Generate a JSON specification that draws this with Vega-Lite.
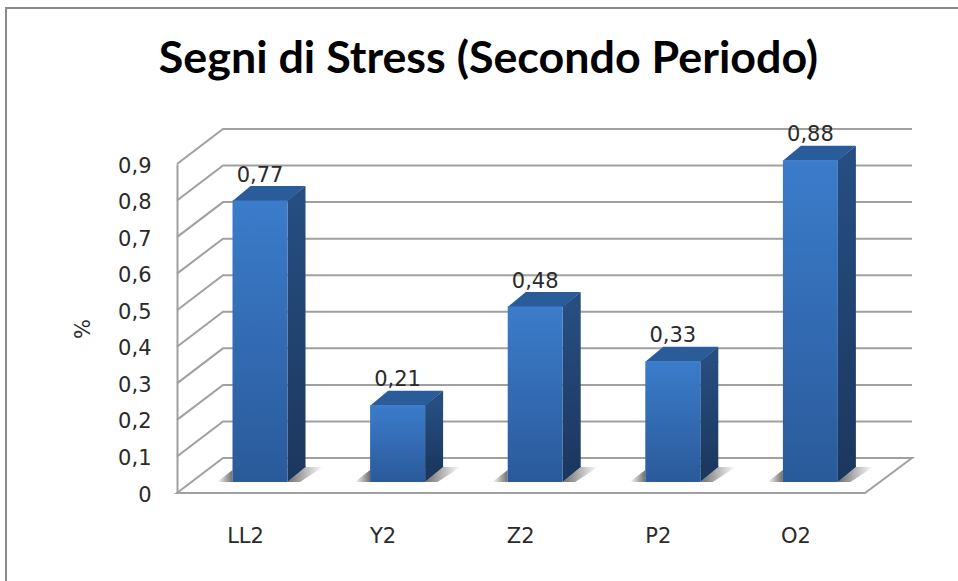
{
"$schema":"https://vega.github.io/schema/vega-lite/v6.json",
"autosize":"none",
"padding":{"left":177,"top":164,"right":46,"bottom":88},
"width":735,"height":329,
"background":"white",
"config":{"view":{"stroke":null}},
"title":{"text":"Segni di Stress (Secondo Periodo)","font":"Lato","fontWeight":"bold","fontSize":44.8,"color":"#000000","anchor":"middle","dx":-56,"offset":-79},
"data":{"values":[
{"cat":"LL2","value":0.77,"label":"0,77"},
{"cat":"Y2","value":0.21,"label":"0,21"},
{"cat":"Z2","value":0.48,"label":"0,48"},
{"cat":"P2","value":0.33,"label":"0,33"},
{"cat":"O2","value":0.88,"label":"0,88"}]},
"encoding":{
"x":{"field":"cat","type":"nominal","sort":null,"scale":{"type":"point","domain":["LL2","Y2","Z2","P2","O2"],"range":[68,618.4],"padding":0},
"axis":{"title":null,"domain":false,"ticks":false,"labelAngle":0,"labelPadding":32,"labelFont":"DejaVu Sans","labelFontSize":21,"labelColor":"#2a2a2a"}},
"y":{"field":"value","type":"quantitative","scale":{"domain":[0,0.9],"nice":false},
"axis":{"title":"%","titleFont":"DejaVu Sans","titleFontSize":21,"titleFontWeight":"normal","titleColor":"#2a2a2a","titlePadding":24,"grid":false,"ticks":false,"domain":true,"domainColor":"#a0a0a0","domainWidth":2,"values":[0,0.1,0.2,0.3,0.4,0.5,0.6,0.7,0.8,0.9],"labelExpr":"datum.value===0?'0':replace(format(datum.value,'.1f'),'.',',')","labelPadding":26,"labelOffset":2,"labelFont":"DejaVu Sans","labelFontSize":21,"labelColor":"#2a2a2a"}}
},
"layer":[
{"data":{"values":[{"tick":0}]},
 "mark":{"type":"point","shape":"M-239 88L-239 -485L713 -485","size":4,"filled":false,"stroke":"#8a8a8a","strokeWidth":2,"opacity":1},
 "encoding":{"x":{"datum":"LL2","type":"nominal"},"y":{"field":"tick","type":"quantitative"}}},
{"data":{"values":[{"tick":0.1},{"tick":0.2},{"tick":0.3},{"tick":0.4},{"tick":0.5},{"tick":0.6},{"tick":0.7},{"tick":0.8},{"tick":0.9}]},
 "mark":{"type":"point","shape":"M-68 0L-22 -35L667 -35","size":4,"filled":false,"stroke":"#a0a0a0","strokeWidth":2,"opacity":1},
 "encoding":{"x":{"datum":"LL2","type":"nominal"},"y":{"field":"tick","type":"quantitative"}}},
{"data":{"values":[{"tick":0}]},
 "mark":{"type":"point","shape":"M-68 0L-22 -35L667 -35L620 0Z","size":4,"filled":false,"stroke":"#a0a0a0","strokeWidth":2,"opacity":1},
 "encoding":{"x":{"datum":"LL2","type":"nominal"},"y":{"field":"tick","type":"quantitative"}}},
{"mark":{"type":"point","shape":"M27.5 0L45.5 -15L63 -15L40 0Z","size":4,"filled":true,"opacity":1,"strokeWidth":0,"xOffset":15,"yOffset":-11,
 "fill":{"gradient":"linear","x1":0,"y1":0,"x2":1,"y2":0,"stops":[{"offset":0,"color":"#6f6f6f"},{"offset":1,"color":"#ffffff"}]}},
 "encoding":{"y":{"datum":0}}},
{"mark":{"type":"point","shape":"M-43 0L-27.5 -12L-27.5 0Z","size":4,"filled":true,"opacity":1,"strokeWidth":0,"xOffset":15,"yOffset":-11,
 "fill":{"gradient":"linear","x1":0,"y1":0,"x2":1,"y2":0,"stops":[{"offset":0,"color":"#ffffff"},{"offset":1,"color":"#6f6f6f"}]}},
 "encoding":{"y":{"datum":0}}},
{"mark":{"type":"bar","size":18,"xOffset":51.5,"yOffset":-11,"y2Offset":-26,
 "fill":{"gradient":"linear","x1":0,"y1":0,"x2":0,"y2":1,"stops":[{"offset":0,"color":"#264e80"},{"offset":1,"color":"#1c3860"}]}},
 "encoding":{"y2":{"datum":0}}},
{"mark":{"type":"point","shape":"M27.5 1L45.5 1L45.5 -14.5L27.5 0Z","size":4,"filled":true,"opacity":1,"strokeWidth":0,"xOffset":15,"yOffset":-11,"fill":"#264e80"}},
{"mark":{"type":"point","shape":"M27.5 -16L45.5 -16L45.5 -15L27.5 0Z","size":4,"filled":true,"opacity":1,"strokeWidth":0,"xOffset":15,"yOffset":-11,"fill":"#1c3860"},
 "encoding":{"y":{"datum":0}}},
{"mark":{"type":"point","shape":"M-27.5 0.5L27.5 0.5L45.5 -14.5L-9.5 -14.5Z","size":4,"filled":true,"opacity":1,"strokeWidth":0,"xOffset":15,"yOffset":-11,"fill":"#2b5c9a"}},
{"mark":{"type":"bar","size":55,"xOffset":15,"yOffset":-11,"y2Offset":-11,
 "fill":{"gradient":"linear","x1":0,"y1":0,"x2":0,"y2":1,"stops":[{"offset":0,"color":"#3b7ccb"},{"offset":1,"color":"#2a5a9a"}]}},
 "encoding":{"y2":{"datum":0}}},
{"mark":{"type":"text","font":"DejaVu Sans","fontSize":21,"color":"#2a2a2a","align":"center","baseline":"alphabetic","xOffset":15,"yOffset":-30},
 "encoding":{"text":{"field":"label"}}}
]
}
